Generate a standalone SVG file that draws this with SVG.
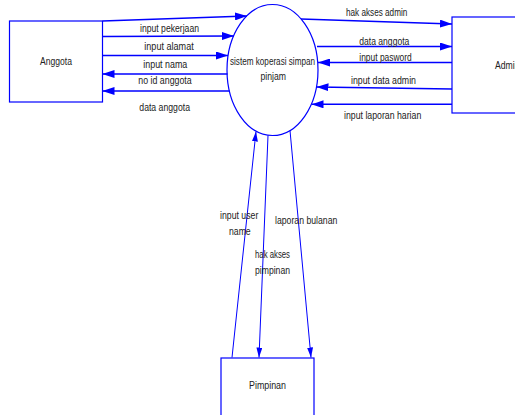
<svg xmlns="http://www.w3.org/2000/svg" width="515" height="415" viewBox="0 0 515 415">
<style>
.box{fill:#fff;stroke:#0000ff;stroke-width:1.2}
.t{font-family:"Liberation Sans",Arial,sans-serif;font-size:10px;fill:#222}
.c{fill:none;stroke:#0000ff;stroke-width:1.6}
.c2{fill:none;stroke:#0000ff;stroke-width:1}
</style>
<defs>
<marker id="ah" viewBox="0 0 12 8" markerUnits="userSpaceOnUse" markerWidth="12" markerHeight="8" refX="12" refY="4" orient="auto">
<path d="M0,0 L12,4 L0,8 z" fill="#0000ff"/>
</marker>
<marker id="ah2" viewBox="0 0 10 6" markerUnits="userSpaceOnUse" markerWidth="10" markerHeight="6" refX="10" refY="3" orient="auto">
<path d="M0,0 L10,3 L0,6 z" fill="#0000ff"/>
</marker>
</defs>
<rect width="515" height="415" fill="#fff"/>
<g id="anggota">
<rect class="box" x="9.5" y="21" width="93" height="81"/>
<text class="t" x="40" y="65" textLength="32" lengthAdjust="spacingAndGlyphs">Anggota</text>
</g>
<g id="admin">
<rect class="box" x="452" y="17" width="120" height="96"/>
<text class="t" x="495" y="68.5" textLength="24.5" lengthAdjust="spacingAndGlyphs">Admin</text>
</g>
<g id="pimpinan">
<rect class="box" x="221" y="358" width="93" height="80"/>
<text class="t" x="249" y="389" textLength="37" lengthAdjust="spacingAndGlyphs">Pimpinan</text>
</g>
<g id="sistem">
<ellipse cx="272.5" cy="70" rx="45.5" ry="65.5" fill="#fff" stroke="#0000ff" stroke-width="1.2"/>
<text class="t" x="230" y="65" textLength="85" lengthAdjust="spacingAndGlyphs">sistem koperasi simpan</text>
<text class="t" x="260.5" y="80" textLength="25.5" lengthAdjust="spacingAndGlyphs">pinjam</text>
</g>
<g id="connectors">
<path class="c" d="M102.5,21 L247,16" marker-end="url(#ah)"/>
<path class="c" d="M102.5,36.5 L234,36" marker-end="url(#ah)"/>
<path class="c" d="M102.5,55.5 L228,55.5" marker-end="url(#ah)"/>
<path class="c" d="M227.5,74 L102.5,74" marker-end="url(#ah)"/>
<path class="c" d="M229.5,91 L102.5,91" marker-end="url(#ah)"/>
<path class="c" d="M301,19 L452,24" marker-end="url(#ah)"/>
<path class="c" d="M317,46.5 L452,46.5" marker-end="url(#ah)"/>
<path class="c" d="M452,62.5 L318,62.5" marker-end="url(#ah)"/>
<path class="c" d="M452,89 L316.5,87" marker-end="url(#ah)"/>
<path class="c" d="M452,104.3 L311.5,104.3" marker-end="url(#ah)"/>
<path class="c2" d="M232,357.5 L256,131.5" marker-end="url(#ah2)"/>
<path class="c2" d="M268,135.5 L259,357.5" marker-end="url(#ah2)"/>
<path class="c2" d="M290,130.5 L311,357.5" marker-end="url(#ah2)"/>
<text class="t" x="140" y="31.5" textLength="59" lengthAdjust="spacingAndGlyphs">input pekerjaan</text>
<text class="t" x="144.3" y="50" textLength="49.4" lengthAdjust="spacingAndGlyphs">input alamat</text>
<text class="t" x="143.3" y="68" textLength="44" lengthAdjust="spacingAndGlyphs">input nama</text>
<text class="t" x="138.3" y="84" textLength="53.4" lengthAdjust="spacingAndGlyphs">no id anggota</text>
<text class="t" x="139.3" y="111" textLength="50.7" lengthAdjust="spacingAndGlyphs">data anggota</text>
<text class="t" x="346" y="16" textLength="61.3" lengthAdjust="spacingAndGlyphs">hak akses admin</text>
<text class="t" x="359.3" y="44.5" textLength="50" lengthAdjust="spacingAndGlyphs">data anggota</text>
<text class="t" x="359.3" y="61" textLength="52.4" lengthAdjust="spacingAndGlyphs">input pasword</text>
<text class="t" x="351" y="84" textLength="65" lengthAdjust="spacingAndGlyphs">input data admin</text>
<text class="t" x="344" y="118.5" textLength="77.3" lengthAdjust="spacingAndGlyphs">input laporan harian</text>
<text class="t" x="220" y="218.5" textLength="38.3" lengthAdjust="spacingAndGlyphs">input user</text>
<text class="t" x="229" y="234.5" textLength="21.7" lengthAdjust="spacingAndGlyphs">name</text>
<text class="t" x="275" y="224" textLength="62.3" lengthAdjust="spacingAndGlyphs">laporan bulanan</text>
<text class="t" x="255" y="257.5" textLength="35" lengthAdjust="spacingAndGlyphs">hak akses</text>
<text class="t" x="255" y="273.5" textLength="35" lengthAdjust="spacingAndGlyphs">pimpinan</text>
</g>
</svg>
